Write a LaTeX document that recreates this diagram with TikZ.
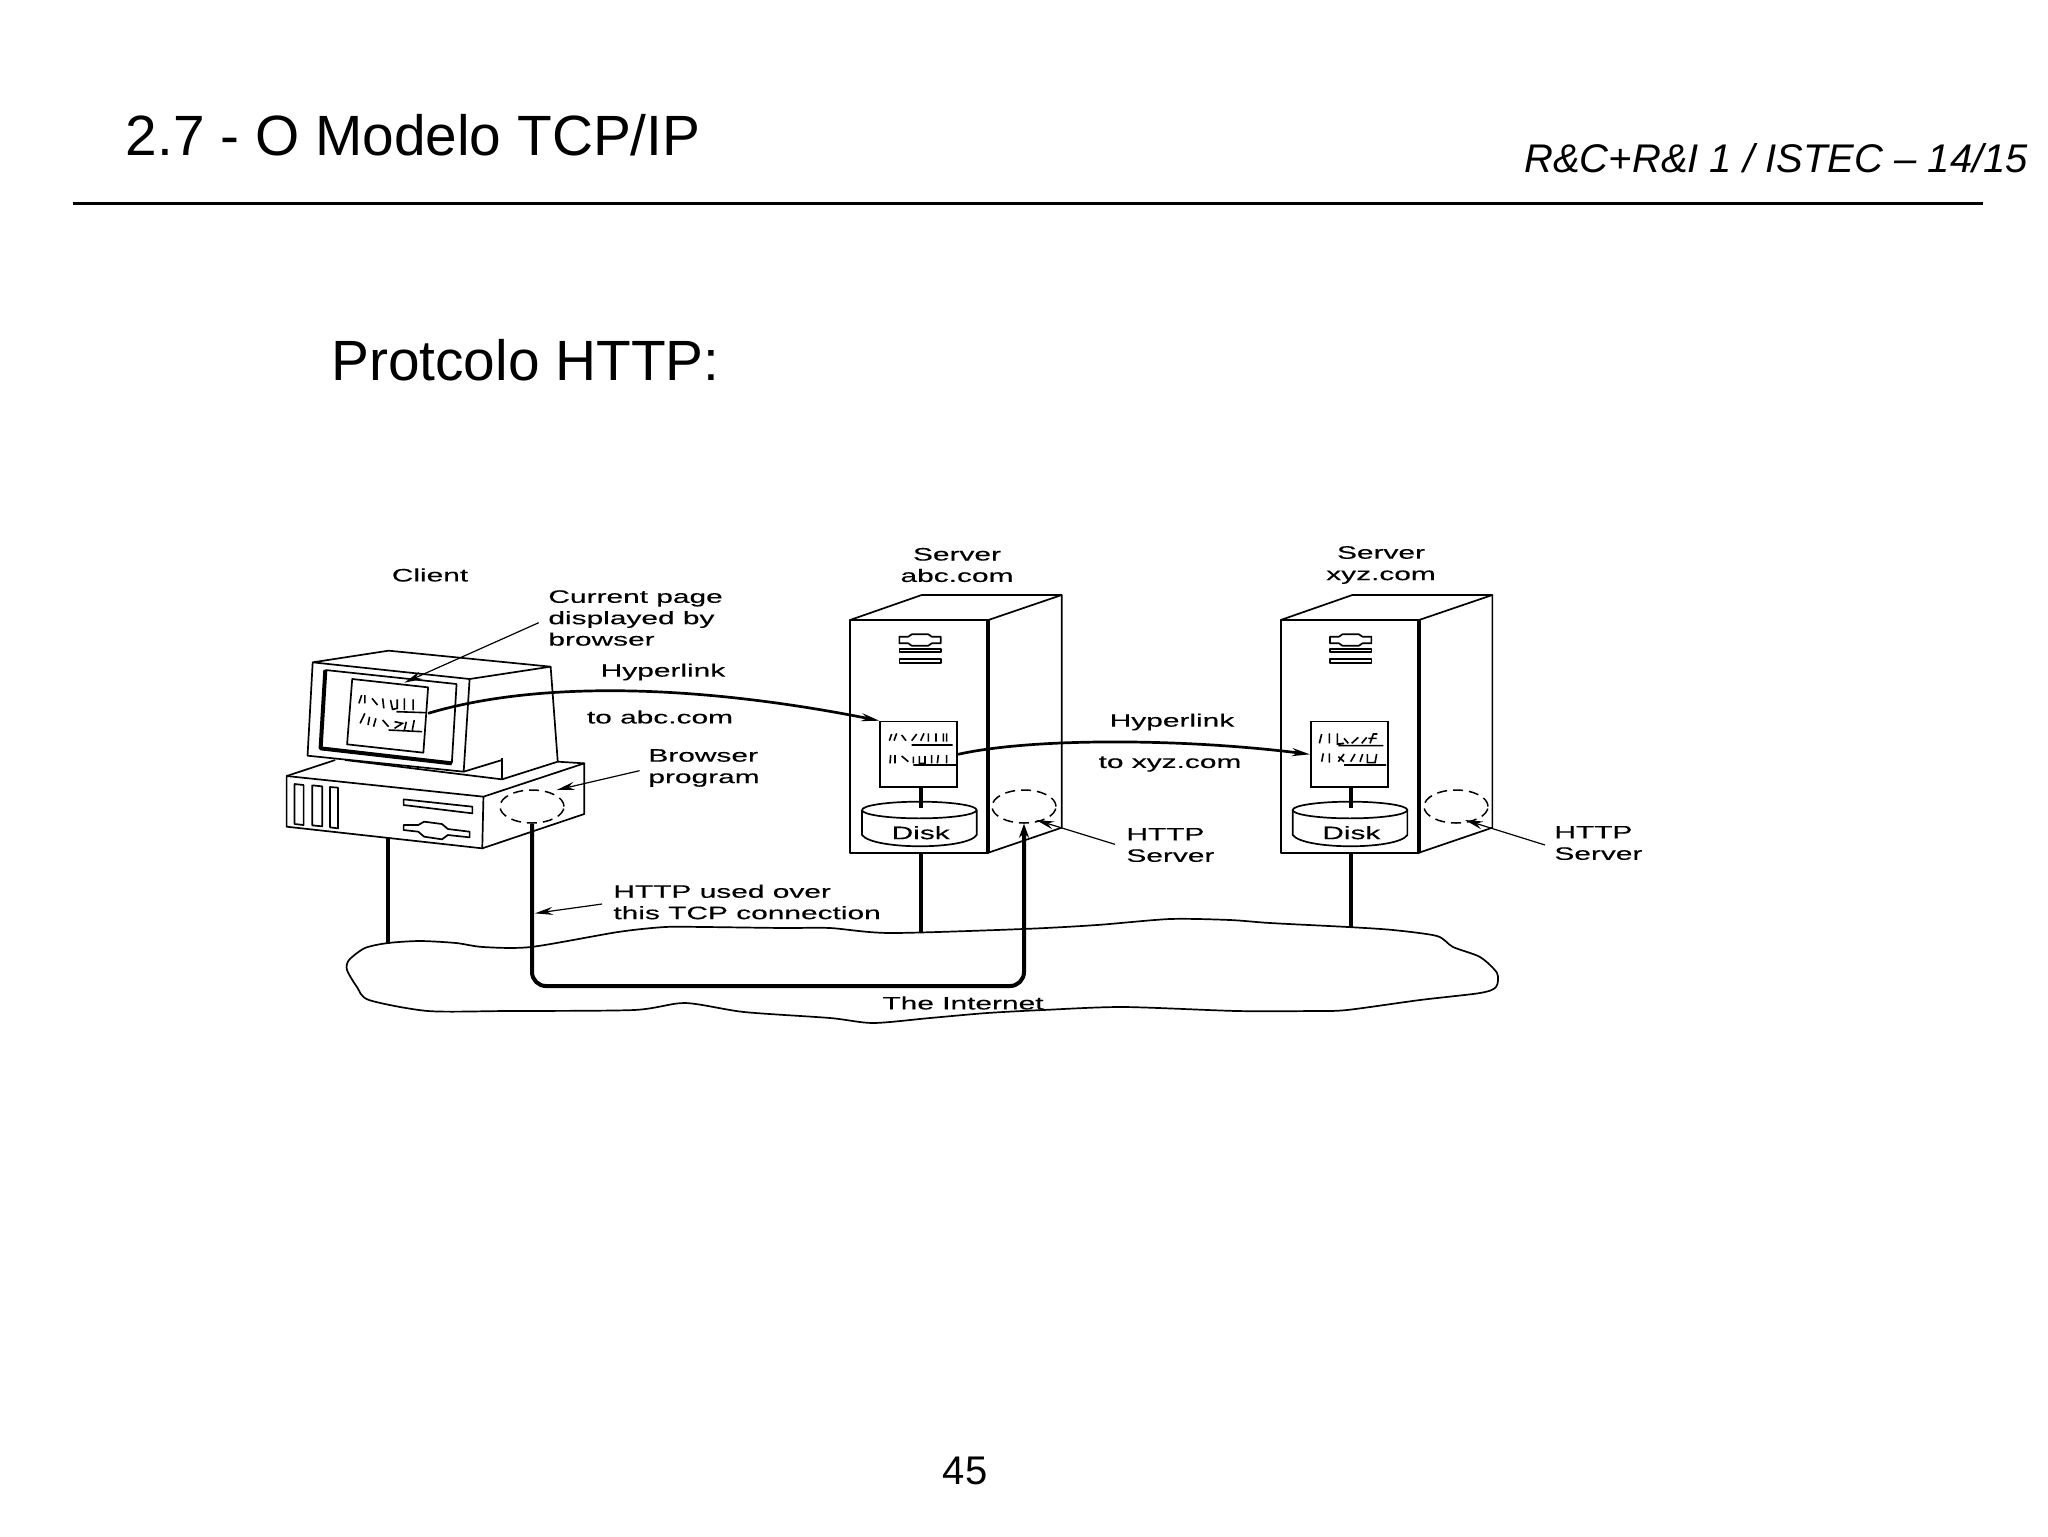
\documentclass[tikz,border=0pt]{standalone}
\usepackage{fontspec}
\usetikzlibrary{arrows.meta,shapes.geometric}
\setmainfont{Liberation Sans}
\newfontfamily\bmfont[FakeStretch=1.66,FakeBold=0.25]{Liberation Sans}
\tikzset{
  x=0.5pt,y=-0.5pt,
  thinline/.style={draw=black,line width=0.85pt,line join=round},
  heavyline/.style={draw=black,line width=2pt,line join=round},
  linkline/.style={draw=black,line width=1.35pt,-{Stealth[length=9pt,width=4pt]}},
  callout/.style={draw=black,line width=0.6pt,-{Stealth[length=9pt,width=4pt]}},
  scribble/.style={draw=black,line width=0.8pt},
  dashcirc/.style={ellipse,draw=black,line width=0.75pt,dash pattern=on 5pt off 3pt,minimum width=32pt,minimum height=16.5pt,inner sep=0pt},
  lbl/.style={inner sep=0pt,font=\bmfont\fontsize{9}{10.7}\selectfont,text=black},
  lbll/.style={lbl,align=left,anchor=west},
  lblc/.style={lbl,align=center},
  pagebox/.style={draw=black,line width=0.85pt,inner sep=0pt,minimum width=38.5pt,minimum height=32.8pt},
  zone/.style={shift={(270,530)},x=0.19763pt,y=-0.16667pt},
  ztwo/.style={shift={(830,530)},x=0.16667pt,y=-0.16667pt},
  zthree/.style={shift={(1220,530)},x=0.16667pt,y=-0.16667pt},
}
\newcommand{\srv}[1]{%
  \draw[thinline] (60,270) rectangle (475,968);
  \draw[thinline] (60,270)--(275,195)--(695,195)--(475,270);
  \draw[thinline] (695,195)--(695,893)--(475,968);
  \draw[heavyline] (475,270)--(475,968);
  \draw[thinline] (208,320)--(235,320)--(245,313)--(295,313)--(305,320)--(332,320)--(332,340)--(305,340)--(295,347)--(245,347)--(235,340)--(208,340)--cycle;
  \draw[thinline] (208,357) rectangle (332,367);
  \draw[thinline] (208,388) rectangle (332,398);
  \node[pagebox] (page#1) at (266,673) {};
  \coordinate (dtop#1) at (272,772);
  \coordinate (dbot#1) at (272,835);
  \draw[heavyline] (dtop#1)--(dbot#1);
  \draw[thinline] (268,840) ellipse [x radius=172,y radius=25];
  \draw[thinline] (96,840)--(96,915) .. controls (130,960) and (410,960) .. (440,915)--(440,840);
  \node[lblc] (disk#1) at (272,908) {Disk};
  \coordinate (foot#1) at (272,968);
}
\begin{document}
\begin{tikzpicture}
\fill[white] (0,0) rectangle (2048,1536);
\useasboundingbox (0,0) rectangle (2048,1536);

% header
\node[inner sep=0pt,anchor=west,font=\fontsize{28.4}{30}\selectfont] (title) at (125.5,135) {2.7 - O Modelo TCP/IP};
\node[inner sep=0pt,anchor=west,font=\itshape\fontsize{20}{22}\selectfont] (course) at (1524,158) {R\&C+R\&I 1 / ISTEC -- 14/15};
\coordinate (ruleL) at (73,203.5);
\coordinate (ruleR) at (1983,203.5);
\draw[black,line width=1.3pt] (ruleL)--(ruleR);
\node[inner sep=0pt,anchor=west,font=\fontsize{28.4}{30}\selectfont] (sub) at (331,360.5) {Protcolo HTTP:};
\node[inner sep=0pt,font=\fontsize{20}{22}\selectfont] (pageno) at (965,1471) {45};

% cloud
\draw[thinline] plot[smooth cycle,tension=0.45] coordinates {
 (388,943) (420,941) (456,943) (483,947) (531,947) (618,932) (665,927) (705,927) (784,928)
 (830,928) (890,933) (1023,929) (1097,925) (1170,919) (1230,920) (1270,923) (1348,927)
 (1393,930) (1437,936) (1453,947) (1480,957) (1497,973) (1496,987) (1480,993) (1420,1000)
 (1347,1010) (1313,1011) (1237,1011) (1123,1007) (1043,1010) (987,1013) (930,1018) (873,1023)
 (830,1018) (744,1012) (685,1003) (634,1010) (507,1011) (428,1011) (369,1000) (357,987)
 (347,970) (349,960) (365,948)};

% client machine
\begin{scope}[zone]
  \draw[thinline] (108,397)--(300,362)--(710,410)--(505,447)--cycle;
  \draw[thinline] (108,397)--(95,677)--(490,725)--(505,447);
  \draw[thinline] (710,410)--(728,695);
  \draw[thinline] (490,725)--(587,690);
  \draw[thinline] (587,685)--(587,748);
  \draw[thinline] (190,690)--(587,748)--(728,695);
  \draw[heavyline] (140,420)--(128,655)--(460,700);
  \draw[thinline] (140,420)--(472,462)--(460,700);
  \draw[thinline] (208,447)--(400,472)--(388,668)--(195,643)--cycle;
  \coordinate (scrEast) at (400,550);
  \draw[scribble] (225,520)--(232,495) (240,495)--(240,520) (258,505)--(272,525) (285,505)--(288,535) (305,510)--(310,538)--(322,535)--(322,508) (340,505)--(340,540) (362,508)--(362,540) (320,545)--(395,548);
  \draw[scribble] (228,580)--(240,550) (252,560)--(248,585) (268,565)--(262,590) (285,570)--(300,590) (315,575)--(335,580)--(315,595) (345,575)--(340,600) (365,570)--(360,600) (300,600)--(385,605);
  % base unit
  \draw[thinline] (42,738)--(165,690);
  \draw[thinline] (42,738)--(540,800)--(537,955)--(42,890)--cycle;
  \draw[thinline] (540,800)--(795,700)--(795,852)--(537,955);
  \draw[thinline] (728,695)--(795,700);
  \draw[thinline] (62,762)--(85,765)--(85,885)--(62,882)--cycle;
  \draw[thinline] (107,766)--(132,769)--(132,889)--(107,886)--cycle;
  \draw[thinline] (152,771)--(172,773)--(172,895)--(152,892)--cycle;
  \draw[thinline] (338,808)--(512,830)--(512,850)--(338,825)--cycle;
  \draw[thinline] (338,885)--(375,885)--(390,875)--(435,882)--(450,897)--(505,905)--(505,922)--(450,915)--(435,928)--(390,920)--(375,905)--(338,900)--cycle;
  \coordinate (clientFoot) at (298,925);
  \coordinate (clientNet) at (298,1243);
  \coordinate (curTail) at (680,278);
  \coordinate (curTip) at (340,458);
  \coordinate (brwTail) at (935,722);
  \coordinate (brwTip) at (725,780);
  \coordinate (useTail) at (840,1122);
  \coordinate (useTip) at (670,1150);
  \coordinate (tcpL) at (663,1368);
\end{scope}
\node[dashcirc] (browser) at (532,806.5) {};

% servers
\begin{scope}[ztwo]
  \srv{A}
  \coordinate (netA) at (272,1208);
  \coordinate (srvATail) at (855,943);
  \coordinate (srvATip) at (618,870);
  \draw[scribble] (178,632)--(185,612) (192,632)--(200,610) (215,615)--(228,632) (245,632)--(260,612) (272,632)--(282,610) (295,610)--(295,635) (318,610)--(318,635) (340,610)--(340,635) (350,610)--(350,635) (245,645)--(368,645);
  \draw[scribble] (180,700)--(182,675) (195,675)--(195,700) (215,678)--(235,695) (250,680)--(250,700) (268,678)--(268,700)--(285,700)--(285,678) (305,675)--(305,700) (325,675)--(322,700) (350,675)--(350,700) (250,705)--(382,705);
\end{scope}
\begin{scope}[shift={(430.67,0)},ztwo]
  \srv{B}
  \coordinate (netB) at (272,1190);
\end{scope}
\begin{scope}[zthree]
  \coordinate (srvBTail) at (975,945);
  \coordinate (srvBTip) at (735,870);
  \draw[scribble] (298,640)--(305,612) (328,610)--(328,640) (352,610)--(352,642)--(372,640) (372,625)--(385,640) (395,640)--(415,622) (425,640)--(440,622) (450,640)--(460,612)--(472,612) (445,625)--(470,625) (355,647)--(490,647);
  \draw[scribble] (305,695)--(310,670) (328,670)--(328,698) (355,695)--(372,672) (355,680)--(372,695) (392,695)--(405,672) (420,695)--(428,672) (442,672)--(442,698)--(465,698)--(470,672) (372,705)--(498,705);
\end{scope}
\node[dashcirc] (httpA) at (1024,806.5) {};
\node[dashcirc] (httpB) at (1456,806.5) {};

% wires
\draw[heavyline] (clientFoot)--(clientNet);
\draw[heavyline] (footA)--(netA);
\draw[heavyline] (footB)--(netB);
\draw[heavyline,rounded corners=7pt,-{Stealth[length=7pt,width=5pt]}] (browser.south)--(browser.south |- tcpL)--(httpA.south |- tcpL)--(httpA.south);

% hyperlinks
\draw[linkline] (scrEast) .. controls (540,680) and (700,685) .. (pageA.north west);
\draw[linkline] (pageA.east) .. controls (1030,738) and (1180,738) .. (pageB.west);

% callouts
\draw[callout] (curTail)--(curTip);
\draw[callout] (brwTail)--(brwTip);
\draw[callout] (useTail)--(useTip);
\draw[callout] (srvATail)--(srvATip);
\draw[callout] (srvBTail)--(srvBTip);

% labels
\node[lblc] (client) at (430,575) {Client};
\node[lbll] (current) at (548,618) {Current page\\displayed by\\browser};
\node[lblc] (hyper1) at (663,672) {Hyperlink};
\node[lblc] (toabc) at (660,717) {to abc.com};
\node[lbll] (brprog) at (648,768) {Browser\\program};
\node[lbll] (useover) at (613,902) {HTTP used over\\this TCP connection};
\node[lblc] (srvabc) at (957,565) {Server\\abc.com};
\node[lblc] (hyper2) at (1172,722) {Hyperlink};
\node[lblc] (toxyz) at (1170,764) {to xyz.com};
\node[lbll] (httpsA) at (1126,845) {HTTP\\Server};
\node[lblc] (srvxyz) at (1381,565) {Server\\xyz.com};
\node[lbll] (httpsB) at (1554,843) {HTTP\\Server};
\node[lblc] (inet) at (963,1003) {The Internet};
\end{tikzpicture}
\end{document}
